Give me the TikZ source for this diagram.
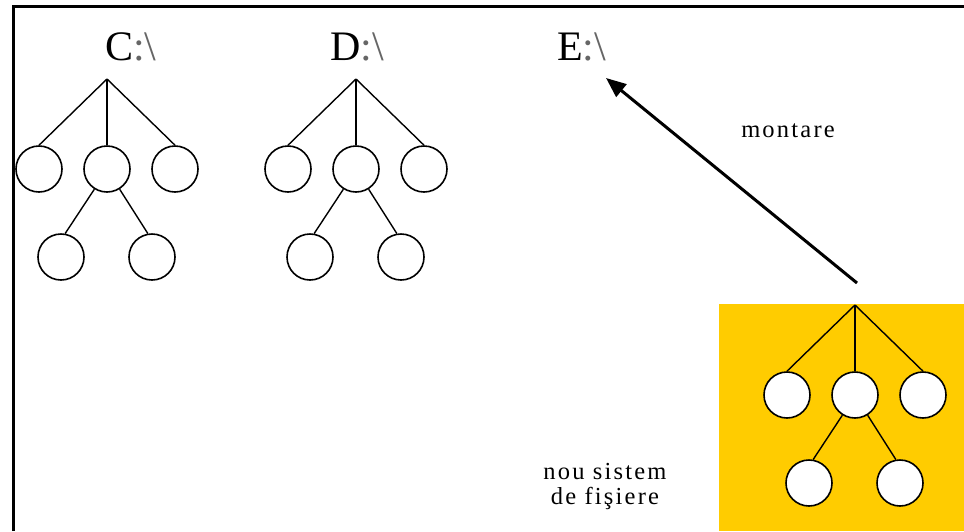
\documentclass[tikz,border=0pt]{standalone}
\usepackage{fontspec}
\setmainfont{Liberation Serif}
\newfontfamily\spacedserif[LetterSpace=9]{Liberation Serif}
\usetikzlibrary{arrows.meta}
\definecolor{gold}{RGB}{255,204,0}
\tikzset{
  dir/.style={circle, draw=black, line width=1.6pt, fill=white, minimum size=46pt, inner sep=0pt},
  branch/.style={line width=1.4pt},
  drivelabel/.style={anchor=base west, inner sep=0pt, font=\fontsize{42}{46}\selectfont},
  smalltext/.style={inner sep=0pt, font=\spacedserif\fontsize{24.5}{25}\selectfont, align=center},
  pics/fstree/.style={code={
    \coordinate (-apex) at (0,0);
    \node[dir] (-l) at (-68,90) {};
    \node[dir] (-m) at (0,90) {};
    \node[dir] (-r) at (68,90) {};
    \node[dir] (-bl) at (-46,178) {};
    \node[dir] (-br) at (45,178) {};
    \draw[branch] (-apex) -- (-l.north);
    \draw[branch] (-apex) -- (-m.north);
    \draw[branch] (-apex) -- (-r.north);
    \draw[branch] (-m.238) -- (-bl.80);
    \draw[branch] (-m.302) -- (-br.100);
  }}
}
\begin{document}
\begin{tikzpicture}[x=1pt,y=-1pt]
\useasboundingbox (0,0) rectangle (964,531);
% yellow area
\fill[gold] (719,304) rectangle (964,531);
% frame
\draw[line width=3pt] (13,531) -- (13,6.5) -- (964,6.5);
% trees
\pic (c) at (107,79) {fstree};
\pic (d) at (356,79) {fstree};
\pic (n) at (855,305) {fstree};
% labels
\node[drivelabel] (lc) at (105,60) {C\textcolor{black!60}{:\textbackslash}};
\node[drivelabel] (ld) at (330,60) {D\textcolor{black!60}{:\textbackslash}};
\node[drivelabel] (le) at (557,60) {E\textcolor{black!60}{:\textbackslash}};
% mount arrow
\coordinate (mstart) at (857,283);
\coordinate (mend) at (606,78);
\draw[line width=3pt, -{Triangle[length=20pt,width=16pt]}] (mstart) -- (mend);
\node[smalltext] (mont) at (788,131) {montare};
\node[smalltext] (nou) at (605,486) {nou sistem\\de fişiere};
\end{tikzpicture}
\end{document}
